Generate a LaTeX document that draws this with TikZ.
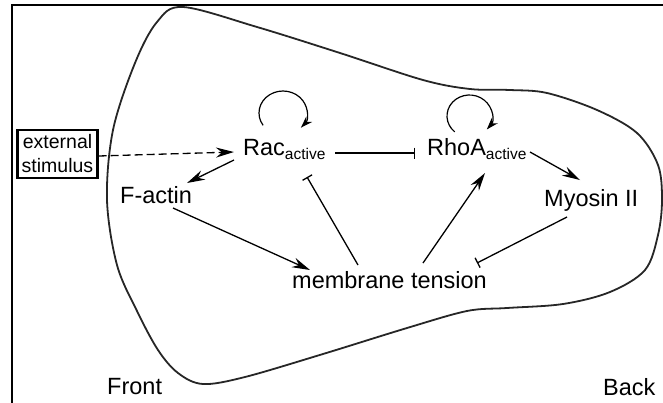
\documentclass[tikz,border=0pt]{standalone}
\usepackage{fontspec}
\setmainfont{Liberation Sans}
\usetikzlibrary{arrows.meta}
\newcommand{\actsub}{\raisebox{-4.5pt}{\fontsize{15.5}{15.5}\selectfont active}}
\begin{document}
\begin{tikzpicture}[x=1pt,y=-1pt,
  lbl/.style={anchor=base west,inner sep=0pt,font=\fontsize{23.5}{26}\selectfont},
  conn/.style={line width=1.3pt},
  act/.style={conn,-{Stealth[length=18pt,width=10pt,inset=6pt]}},
  inh/.style={conn,-{Bar[width=11pt,line width=1.3pt]}},
  loopa/.style={line width=1.2pt,-{Stealth[length=12pt,width=8pt,inset=4pt]}},
  outline/.style={line width=1.8pt,black!85},
  extbox/.style={draw,line width=2.2pt,inner sep=0pt,minimum width=80pt,minimum height=48pt,align=center,font=\fontsize{19.5}{24}\selectfont}]
\useasboundingbox (0,0) rectangle (663,402);
\clip (0,0) rectangle (663,402);
\draw[line width=1.6pt] (12,5) rectangle (690,430);
% cell outline
\draw[outline] plot[smooth cycle,tension=0.55] coordinates {
 (183,7) (257,27) (340,53) (423,80) (470,89) (510,90) (547,93) (597,110) (637,133)
 (658,165) (662,200) (658,235) (645,270) (610,292) (563,304) (507,308) (467,311)
 (407,328) (323,354) (245,377) (203,384) (178,373) (158,350) (137,311) (117,265) (107,200)
 (113,130) (135,63) (157,22)};
% nodes
\node[extbox] (ext) at (57.5,154) {external\\stimulus};
\node[lbl] (rac) at (243,155) {Rac\actsub};
\node[lbl] (rhoa) at (427,155) {RhoA\actsub};
\node[lbl] (myo) at (544,206) {Myosin II};
\node[lbl] (fact) at (120,203) {F-actin};
\node[lbl] (mem) at (292,288) {membrane tension};
\node[lbl] (front) at (107,394) {Front};
\node[lbl] (back) at (603,395) {Back};
% connectors
\draw[act,dashed,dash pattern=on 8pt off 4pt] ([yshift=-2pt]ext.east) -- ([shift={(-9,-3)}]rac.base west);
\draw[act] ([shift={(-9,5)}]rac.base west) -- ([shift={(67,-20)}]fact.base west);
\draw[act] ([shift={(53,5)}]fact.base west) -- ([shift={(18,-18)}]mem.base west);
\draw[inh] ([shift={(92,-2)}]rac.base west) -- ([shift={(-12,-2)}]rhoa.base west);
\draw[inh] ([shift={(66,-23)}]mem.base west) -- ([shift={(64,22)}]rac.base west);
\draw[act] ([shift={(131,-25)}]mem.base west) -- ([shift={(58,18)}]rhoa.base west);
\draw[act] ([shift={(103,-3)}]rhoa.base west) -- ([shift={(36,-26)}]myo.base west);
\draw[inh] ([shift={(23,11)}]myo.base west) -- ([shift={(185,-25)}]mem.base west);
% self loops
\coordinate (racloop) at ([shift={(40,-42)}]rac.base west);
\coordinate (rhoaloop) at ([shift={(42.5,-39)}]rhoa.base west);
\draw[loopa] ([shift={(146:24 and 22)}]racloop) arc[start angle=146,end angle=402,x radius=24,y radius=22];
\draw[loopa] ([shift={(131:22.5 and 21)}]rhoaloop) arc[start angle=131,end angle=400,x radius=22.5,y radius=21];
\end{tikzpicture}
\end{document}
